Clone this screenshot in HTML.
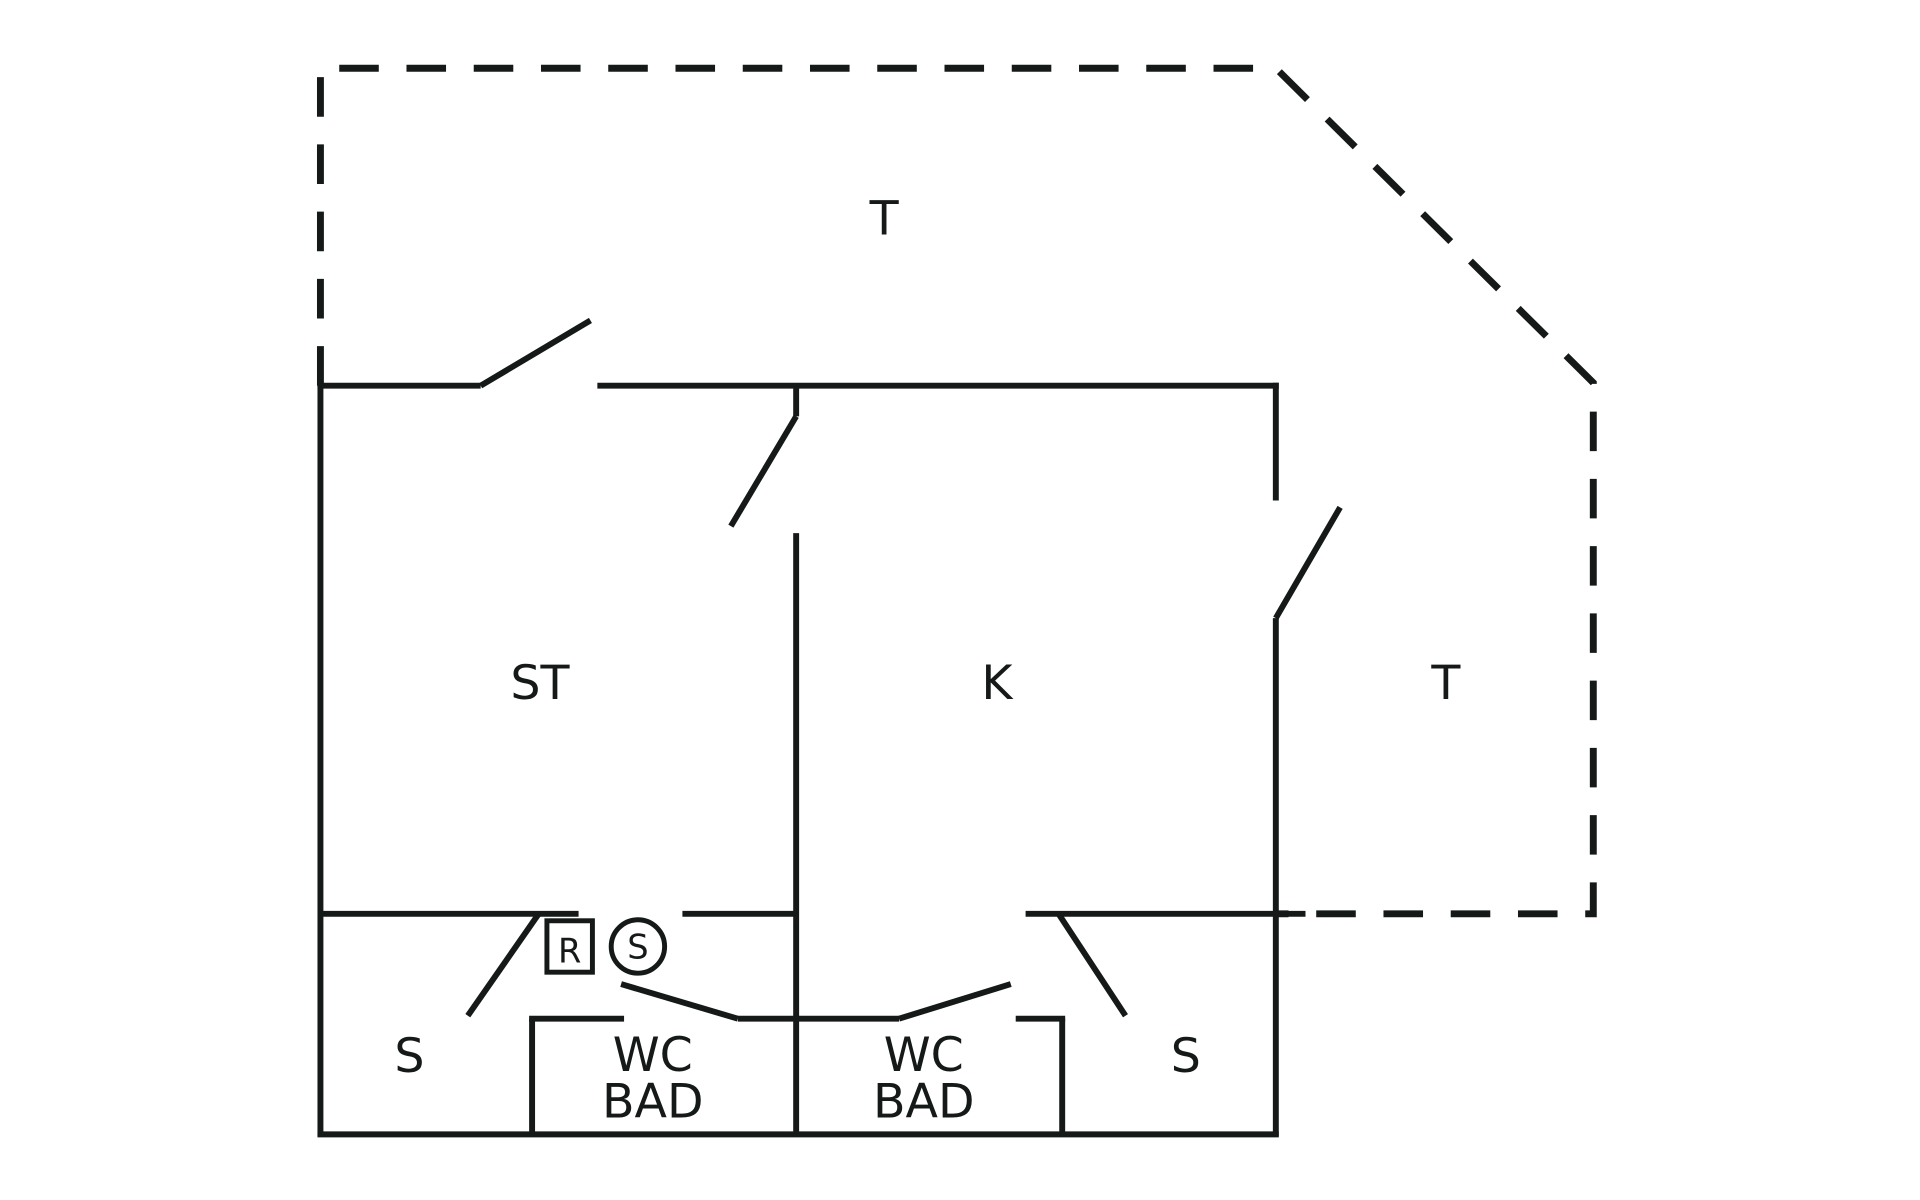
<!DOCTYPE html>
<html><head><meta charset="utf-8"><style>html,body{margin:0;padding:0;background:#fff}svg{display:block}</style></head>
<body>
<svg width="1920" height="1200" viewBox="0 0 1920 1200" xmlns="http://www.w3.org/2000/svg">
<g transform="scale(0.98901)">
<g stroke="#151a18" stroke-width="6" fill="none" stroke-linecap="butt">
<g stroke-dasharray="40 28" stroke-width="7">
<polyline points="324,390 324,69 1290,69 1611,387 1611,924 1290,924"/>
</g>
<line x1="324" y1="390" x2="324" y2="1149"/>
<line x1="321" y1="1147" x2="1293" y2="1147"/>
<line x1="1290" y1="625" x2="1290" y2="1149"/>
<line x1="1290" y1="387" x2="1290" y2="506"/>
<line x1="321" y1="390" x2="486" y2="390"/>
<line x1="486" y1="390" x2="597" y2="324"/>
<line x1="604" y1="390" x2="1293" y2="390"/>
<line x1="805" y1="390" x2="805" y2="421"/>
<line x1="805" y1="421" x2="739" y2="532"/>
<line x1="805" y1="539" x2="805" y2="1147"/>
<line x1="1355" y1="513" x2="1290" y2="625"/>
<line x1="324" y1="924" x2="585" y2="924"/>
<line x1="690" y1="924" x2="805" y2="924"/>
<line x1="1037" y1="924" x2="1320" y2="924"/>
<line x1="544" y1="925" x2="473" y2="1027"/>
<line x1="1071" y1="925" x2="1138" y2="1027"/>
<line x1="538" y1="1030" x2="538" y2="1147"/>
<line x1="535" y1="1030" x2="631" y2="1030"/>
<line x1="628" y1="995" x2="746" y2="1030"/>
<line x1="746" y1="1030" x2="909" y2="1030"/>
<line x1="909" y1="1030" x2="1022" y2="995"/>
<line x1="1027" y1="1030" x2="1077" y2="1030"/>
<line x1="1074" y1="1030" x2="1074" y2="1147"/>
<rect x="553" y="931" width="46" height="52" stroke-width="5"/>
<circle cx="645" cy="957" r="27" stroke-width="5"/>
</g>
<g font-family="'DejaVu Sans','Liberation Sans',sans-serif" font-size="48" fill="#151a18" text-anchor="middle">
<text x="894" y="237">T</text>
<text x="546" y="707">ST</text>
<text x="1008" y="707">K</text>
<text x="1462" y="707">T</text>
<text x="414" y="1084">S</text>
<text x="1199" y="1084">S</text>
<text x="660" y="1083">WC</text>
<text x="660" y="1130">BAD</text>
<text x="934" y="1083">WC</text>
<text x="934" y="1130">BAD</text>
<text x="576" y="973" font-size="34">R</text>
<text x="645" y="969" font-size="34">S</text>
</g>
</g>
</svg>
</body></html>
